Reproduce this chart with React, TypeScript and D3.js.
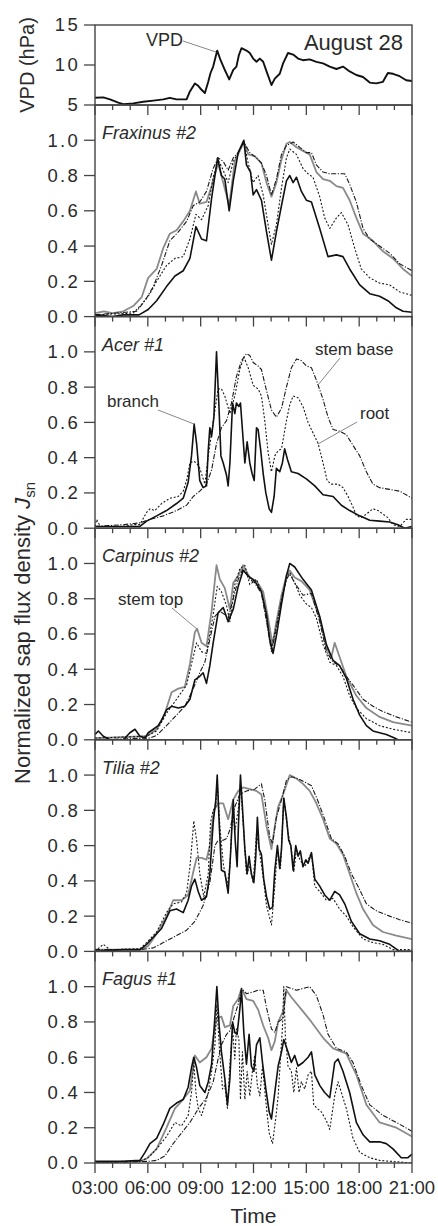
import React from 'react';
import * as d3 from 'd3';

type P = [number, number];

// ---------- axis / tick data ----------
const minorHours = d3.range(3, 22);
const majorHours = [3, 6, 9, 12, 15, 18, 21];
const timeLabels = ['03:00', '06:00', '09:00', '12:00', '15:00', '18:00', '21:00'];
const vpdTicks = [5, 10, 15];
const sapTicks = [0, 0.2, 0.4, 0.6, 0.8, 1.0];

// ---------- VPD (hPa) ----------
const vpd: P[] = [[3,5.9],[3.47,5.95],[3.85,5.7],[4.32,5.3],[4.61,5.1],[5.17,5.2],[5.74,5.4],[6.31,5.55],[6.88,5.7],[7.25,5.9],[7.63,5.7],[8.2,5.7],[8.39,6.7],[8.67,7.7],[8.86,7.4],[9.05,6.9],[9.24,6.5],[9.43,7.9],[9.56,9.0],[9.71,9.8],[9.94,11.8],[10.13,10.6],[10.37,9.4],[10.62,8.2],[10.85,9.4],[11.03,9.8],[11.17,11.25],[11.32,12.1],[11.6,11.8],[11.79,11.5],[11.98,10.8],[12.17,10.4],[12.36,10.8],[12.55,10.4],[12.74,9.2],[13.02,7.5],[13.21,8.3],[13.49,8.9],[13.68,10.2],[13.96,11.5],[14.25,11.3],[14.53,10.8],[14.81,10.6],[15.19,10.7],[15.57,10.4],[15.95,10.2],[16.33,9.8],[16.71,9.5],[17.08,9.8],[17.46,9.2],[17.84,8.75],[18.22,8.5],[18.6,7.8],[18.97,7.7],[19.35,7.9],[19.63,9.0],[19.92,8.9],[20.3,8.6],[20.67,8.1],[21,8.0]];

// ---------- Fraxinus #2 ----------
const fraxBranch: P[] = [[3,0.01],[4,0.0],[4.61,0.01],[5.5,0.01],[6.02,0.04],[6.5,0.09],[7.06,0.17],[7.54,0.23],[8.01,0.26],[8.39,0.33],[8.73,0.51],[9.05,0.44],[9.33,0.43],[9.62,0.67],[9.96,0.9],[10.18,0.8],[10.37,0.78],[10.62,0.6],[10.85,0.77],[11.13,0.93],[11.45,1.0],[11.6,0.86],[11.83,0.82],[11.98,0.69],[12.17,0.72],[12.45,0.66],[12.74,0.48],[13.02,0.32],[13.3,0.48],[13.59,0.63],[13.87,0.77],[14.06,0.8],[14.25,0.76],[14.44,0.79],[14.72,0.71],[15.0,0.66],[15.29,0.65],[15.76,0.5],[16.23,0.34],[16.71,0.35],[17.08,0.34],[17.46,0.27],[18.03,0.18],[18.6,0.13],[19.16,0.115],[19.63,0.09],[20.11,0.05],[20.49,0.03],[21,0.025]];
const fraxStemTop: P[] = [[3,0.02],[3.5,0.03],[4,0.02],[4.61,0.03],[5.17,0.06],[5.65,0.11],[6.02,0.22],[6.5,0.27],[6.88,0.39],[7.25,0.47],[7.63,0.49],[8.01,0.54],[8.39,0.6],[8.73,0.71],[8.95,0.64],[9.33,0.65],[9.62,0.74],[9.99,0.87],[10.28,0.76],[10.62,0.63],[10.94,0.88],[11.22,0.94],[11.45,0.99],[11.7,0.92],[12.07,0.91],[12.45,0.87],[12.74,0.76],[13.02,0.68],[13.3,0.76],[13.59,0.89],[13.87,0.98],[14.06,0.99],[14.44,0.96],[14.81,0.94],[15.19,0.92],[15.57,0.82],[15.95,0.78],[16.33,0.77],[16.71,0.74],[17.08,0.73],[17.46,0.66],[17.84,0.56],[18.22,0.47],[18.78,0.43],[19.35,0.37],[19.92,0.33],[20.49,0.27],[21,0.23]];
const fraxRoot: P[] = [[3,0.01],[5.17,0.02],[5.65,0.07],[6.12,0.13],[6.5,0.2],[7.06,0.29],[7.54,0.33],[8.01,0.34],[8.39,0.44],[8.73,0.58],[9.05,0.55],[9.43,0.63],[9.71,0.79],[9.99,0.89],[10.28,0.83],[10.56,0.76],[10.85,0.88],[11.13,0.93],[11.45,0.99],[11.7,0.87],[11.98,0.76],[12.26,0.8],[12.55,0.69],[12.83,0.52],[13.02,0.41],[13.3,0.52],[13.59,0.73],[13.87,0.9],[14.06,0.95],[14.44,0.92],[14.81,0.84],[15.1,0.81],[15.38,0.79],[15.76,0.68],[16.04,0.56],[16.33,0.5],[16.71,0.56],[16.99,0.59],[17.37,0.52],[17.74,0.39],[18.12,0.27],[18.6,0.22],[19.16,0.19],[19.73,0.18],[20.3,0.14],[21,0.12]];
const fraxStemBase: P[] = [[3,0.01],[5.36,0.03],[5.84,0.09],[6.31,0.17],[6.78,0.29],[7.25,0.43],[7.73,0.48],[8.2,0.54],[8.58,0.63],[8.95,0.65],[9.33,0.71],[9.71,0.84],[9.99,0.9],[10.28,0.88],[10.56,0.83],[10.85,0.9],[11.13,0.93],[11.45,0.99],[11.79,0.93],[12.17,0.9],[12.45,0.87],[12.74,0.8],[13.02,0.69],[13.3,0.78],[13.59,0.92],[13.87,0.97],[14.25,0.99],[14.63,0.96],[15.0,0.93],[15.29,0.93],[15.57,0.86],[15.95,0.82],[16.33,0.81],[16.71,0.81],[17.18,0.81],[17.46,0.75],[17.84,0.65],[18.22,0.5],[18.6,0.44],[19.16,0.4],[19.73,0.36],[20.3,0.3],[21,0.26]];

// ---------- Acer #1 ----------
const acerBranch: P[] = [[3,0.01],[4.61,0.01],[5.55,0.01],[5.93,0.04],[6.5,0.07],[7.06,0.1],[7.63,0.14],[8.01,0.17],[8.29,0.26],[8.48,0.41],[8.63,0.59],[8.77,0.48],[8.95,0.27],[9.14,0.23],[9.33,0.24],[9.43,0.44],[9.52,0.57],[9.62,0.52],[9.75,0.63],[9.9,1.0],[10.03,0.71],[10.15,0.41],[10.28,0.37],[10.47,0.3],[10.56,0.24],[10.66,0.37],[10.81,0.71],[10.94,0.65],[11.03,0.71],[11.17,0.69],[11.26,0.71],[11.37,0.56],[11.51,0.37],[11.64,0.49],[11.79,0.37],[11.92,0.31],[12.04,0.27],[12.17,0.57],[12.26,0.56],[12.4,0.45],[12.55,0.31],[12.7,0.2],[12.89,0.11],[13.02,0.09],[13.17,0.18],[13.3,0.34],[13.49,0.32],[13.64,0.37],[13.77,0.45],[13.93,0.39],[14.15,0.32],[14.53,0.31],[15.0,0.28],[15.48,0.24],[15.95,0.19],[16.52,0.18],[16.99,0.13],[17.46,0.1],[18.03,0.07],[18.6,0.045],[19.16,0.04],[19.73,0.035],[20.2,0.02],[20.58,0.0],[21,0.01]];
const acerRoot: P[] = [[3,0.01],[3.09,0.05],[3.3,0.01],[3.66,0.01],[4.61,0.01],[5.17,0.02],[5.55,0.02],[5.93,0.09],[6.12,0.11],[6.4,0.1],[6.78,0.14],[7.25,0.17],[7.73,0.18],[8.01,0.21],[8.2,0.27],[8.39,0.37],[8.58,0.38],[8.77,0.37],[8.95,0.34],[9.24,0.25],[9.43,0.41],[9.62,0.54],[9.81,0.67],[9.99,0.79],[10.18,0.79],[10.37,0.75],[10.66,0.65],[10.94,0.75],[11.22,0.9],[11.45,0.97],[11.7,0.91],[11.98,0.81],[12.26,0.79],[12.45,0.75],[12.64,0.61],[12.83,0.43],[13.02,0.32],[13.21,0.41],[13.4,0.44],[13.59,0.45],[13.87,0.61],[14.06,0.7],[14.25,0.75],[14.53,0.74],[14.81,0.69],[15.1,0.6],[15.38,0.54],[15.67,0.48],[15.95,0.37],[16.18,0.27],[16.42,0.25],[16.8,0.25],[17.08,0.23],[17.37,0.18],[17.65,0.12],[17.84,0.07],[18.12,0.06],[18.41,0.08],[18.78,0.11],[19.07,0.1],[19.35,0.08],[19.63,0.06],[19.92,0.02],[20.3,0.01],[20.67,0.05],[21,0.05]];
const acerStemBase: P[] = [[3,0.01],[4.61,0.02],[5.55,0.03],[6.12,0.05],[6.88,0.07],[7.63,0.1],[8.2,0.13],[8.58,0.18],[8.95,0.21],[9.33,0.25],[9.62,0.33],[9.9,0.48],[10.18,0.57],[10.47,0.61],[10.75,0.71],[11.03,0.86],[11.32,0.95],[11.6,0.99],[11.79,0.98],[11.98,0.94],[12.26,0.92],[12.45,0.9],[12.74,0.78],[13.02,0.67],[13.3,0.63],[13.59,0.68],[13.87,0.8],[14.15,0.91],[14.44,0.96],[14.72,0.95],[15.0,0.92],[15.29,0.91],[15.57,0.84],[15.95,0.73],[16.23,0.63],[16.52,0.56],[16.89,0.55],[17.27,0.53],[17.65,0.47],[18.03,0.41],[18.41,0.32],[18.78,0.25],[19.16,0.23],[19.73,0.22],[20.3,0.21],[21,0.17]];

// ---------- Carpinus #2 ----------
const carpBranch: P[] = [[3,0.03],[3.19,0.05],[3.47,0.02],[3.85,0.0],[4.61,0.0],[4.98,0.04],[5.27,0.06],[5.55,0.02],[5.84,0.01],[6.02,0.04],[6.31,0.06],[6.59,0.08],[6.78,0.11],[7.06,0.17],[7.35,0.19],[7.73,0.18],[8.1,0.19],[8.39,0.23],[8.67,0.34],[8.95,0.36],[9.14,0.38],[9.33,0.32],[9.52,0.42],[9.71,0.55],[9.99,0.72],[10.28,0.75],[10.56,0.67],[10.85,0.74],[11.13,0.87],[11.41,0.96],[11.7,0.93],[12.07,0.9],[12.45,0.84],[12.74,0.71],[12.92,0.57],[13.11,0.49],[13.3,0.59],[13.59,0.77],[13.87,0.93],[14.06,1.0],[14.34,0.98],[14.81,0.91],[15.29,0.85],[15.76,0.7],[16.14,0.54],[16.52,0.45],[16.89,0.42],[17.27,0.35],[17.65,0.23],[18.03,0.14],[18.41,0.08],[18.78,0.05],[19.16,0.04],[19.54,0.03],[20.01,0.01],[20.2,0.0]];
const carpStemTop: P[] = [[3,0.01],[5.93,0.02],[6.5,0.06],[6.97,0.15],[7.35,0.27],[7.73,0.29],[8.1,0.3],[8.39,0.43],[8.67,0.61],[8.8,0.63],[9.05,0.55],[9.33,0.53],[9.62,0.73],[9.9,0.99],[10.09,0.91],[10.37,0.86],[10.66,0.74],[10.85,0.89],[11.13,0.93],[11.41,0.99],[11.79,0.92],[12.17,0.9],[12.55,0.84],[12.83,0.69],[13.08,0.54],[13.3,0.67],[13.59,0.82],[13.87,0.93],[14.06,0.96],[14.34,0.92],[14.72,0.9],[15.19,0.85],[15.76,0.69],[16.14,0.52],[16.42,0.47],[16.61,0.55],[16.89,0.47],[17.27,0.36],[17.84,0.25],[18.41,0.18],[19.16,0.13],[19.92,0.1],[21,0.08]];
const carpRoot: P[] = [[3,0.01],[5.93,0.02],[6.5,0.05],[7.06,0.15],[7.63,0.23],[8.2,0.31],[8.48,0.43],[8.77,0.55],[9.05,0.5],[9.33,0.49],[9.71,0.71],[9.94,0.87],[10.18,0.84],[10.47,0.76],[10.66,0.67],[10.94,0.88],[11.22,0.97],[11.51,0.99],[11.79,0.88],[12.17,0.91],[12.45,0.84],[12.74,0.69],[13.02,0.52],[13.3,0.65],[13.59,0.79],[13.87,0.91],[14.06,0.95],[14.34,0.89],[14.63,0.82],[15.0,0.77],[15.29,0.75],[15.57,0.69],[15.95,0.54],[16.33,0.44],[16.71,0.42],[17.08,0.36],[17.46,0.25],[17.84,0.18],[18.41,0.12],[19.16,0.08],[19.92,0.06],[21,0.04]];
const carpStemBase: P[] = [[3,0.0],[6.12,0.01],[6.5,0.025],[7.06,0.08],[7.63,0.14],[8.1,0.19],[8.58,0.29],[8.95,0.38],[9.24,0.44],[9.52,0.57],[9.81,0.7],[10.09,0.73],[10.37,0.71],[10.56,0.69],[10.85,0.8],[11.13,0.91],[11.41,0.97],[11.79,0.91],[12.07,0.89],[12.45,0.83],[12.74,0.67],[13.02,0.5],[13.3,0.63],[13.59,0.8],[13.87,0.91],[14.06,0.94],[14.34,0.89],[14.81,0.82],[15.29,0.83],[15.76,0.67],[16.14,0.5],[16.52,0.44],[16.89,0.42],[17.27,0.36],[17.65,0.31],[18.22,0.23],[18.78,0.19],[19.35,0.16],[20.11,0.13],[21,0.1]];

// ---------- Tilia #2 ----------
const tiliaBranch: P[] = [[3,0.0],[4.61,0.01],[5.55,0.01],[5.93,0.04],[6.4,0.09],[6.78,0.13],[7.25,0.23],[7.63,0.24],[8.01,0.22],[8.29,0.29],[8.48,0.37],[8.67,0.41],[8.86,0.34],[9.05,0.29],[9.33,0.31],[9.52,0.44],[9.71,0.73],[9.86,0.86],[9.94,1.0],[10.05,0.73],[10.18,0.46],[10.37,0.45],[10.56,0.33],[10.69,0.54],[10.85,0.86],[10.96,0.63],[11.07,0.48],[11.15,0.73],[11.26,1.0],[11.37,0.82],[11.51,0.58],[11.64,0.44],[11.75,0.54],[11.88,0.44],[12.02,0.39],[12.13,0.54],[12.22,0.76],[12.32,0.58],[12.45,0.55],[12.58,0.41],[12.74,0.31],[12.92,0.24],[13.08,0.25],[13.21,0.46],[13.36,0.6],[13.49,0.47],[13.59,0.58],[13.72,0.87],[13.87,0.76],[14.0,0.63],[14.12,0.6],[14.25,0.46],[14.4,0.6],[14.53,0.54],[14.66,0.57],[14.81,0.48],[14.97,0.52],[15.1,0.5],[15.29,0.56],[15.48,0.41],[15.76,0.37],[16.04,0.32],[16.33,0.29],[16.61,0.34],[16.89,0.32],[17.18,0.27],[17.56,0.17],[18.03,0.1],[18.6,0.07],[19.16,0.06],[19.73,0.04],[20.3,0.0],[21,0.0]];
const tiliaRoot: P[] = [[3,0.0],[3.47,0.04],[3.85,0.01],[5.55,0.015],[5.93,0.05],[6.5,0.11],[7.06,0.22],[7.44,0.27],[7.91,0.28],[8.2,0.33],[8.39,0.48],[8.48,0.58],[8.61,0.74],[8.77,0.63],[8.95,0.44],[9.18,0.31],[9.43,0.44],[9.56,0.73],[9.71,0.8],[9.86,0.82],[9.94,0.97],[10.09,0.71],[10.28,0.5],[10.5,0.37],[10.66,0.48],[10.81,0.78],[10.96,0.69],[11.15,0.82],[11.26,0.95],[11.45,0.67],[11.6,0.44],[11.79,0.48],[11.98,0.39],[12.17,0.67],[12.32,0.58],[12.55,0.42],[12.74,0.26],[13.02,0.15],[13.21,0.37],[13.36,0.58],[13.53,0.47],[13.72,0.87],[13.96,0.67],[14.15,0.58],[14.29,0.45],[14.44,0.58],[14.63,0.52],[14.91,0.48],[15.29,0.56],[15.48,0.37],[15.76,0.34],[16.14,0.29],[16.52,0.3],[16.89,0.24],[17.27,0.2],[17.65,0.14],[18.22,0.07],[18.78,0.05],[19.35,0.04],[19.92,0.01],[21,0.01]];
const tiliaStemTop: P[] = [[3,0.01],[5.55,0.01],[6.02,0.03],[6.5,0.1],[7.06,0.2],[7.44,0.29],[7.91,0.29],[8.29,0.32],[8.58,0.45],[8.77,0.53],[9.05,0.53],[9.33,0.52],[9.52,0.6],[9.75,0.8],[9.99,0.84],[10.28,0.84],[10.56,0.75],[10.85,0.86],[11.13,0.91],[11.41,0.93],[11.79,0.92],[12.17,0.91],[12.45,0.89],[12.74,0.71],[13.02,0.58],[13.21,0.71],[13.4,0.82],[13.68,0.89],[14.06,1.0],[14.44,0.98],[14.81,0.95],[15.19,0.91],[15.57,0.84],[15.95,0.75],[16.33,0.64],[16.71,0.61],[17.08,0.55],[17.46,0.44],[17.84,0.33],[18.22,0.24],[18.78,0.15],[19.35,0.11],[20.11,0.09],[21,0.07]];
const tiliaStemBase: P[] = [[3,0.01],[5.55,0.01],[6.31,0.02],[6.88,0.05],[7.63,0.09],[8.2,0.12],[8.67,0.17],[9.14,0.26],[9.52,0.39],[9.81,0.6],[9.99,0.63],[10.28,0.63],[10.47,0.64],[10.66,0.69],[10.94,0.82],[11.22,0.89],[11.6,0.91],[12.07,0.92],[12.45,0.95],[12.64,0.86],[12.92,0.65],[13.08,0.61],[13.3,0.76],[13.59,0.86],[13.87,0.97],[14.15,0.99],[14.53,0.98],[14.91,0.96],[15.29,0.94],[15.67,0.85],[16.04,0.75],[16.42,0.64],[16.8,0.61],[17.18,0.54],[17.56,0.44],[17.93,0.37],[18.41,0.27],[18.97,0.23],[19.73,0.2],[20.3,0.18],[21,0.16]];

// ---------- Fagus #1 ----------
const fagusBranch: P[] = [[3,0.01],[4.61,0.01],[5.55,0.015],[5.84,0.06],[6.12,0.11],[6.5,0.14],[6.88,0.22],[7.25,0.31],[7.63,0.34],[8.01,0.36],[8.29,0.43],[8.48,0.54],[8.61,0.6],[8.77,0.54],[8.95,0.44],[9.24,0.4],[9.43,0.46],[9.62,0.56],[9.81,0.83],[9.92,1.0],[10.05,0.78],[10.18,0.63],[10.37,0.48],[10.52,0.33],[10.66,0.48],[10.81,0.8],[10.94,0.74],[11.07,0.73],[11.22,0.87],[11.32,0.98],[11.45,0.74],[11.6,0.56],[11.75,0.73],[11.88,0.55],[12.02,0.52],[12.17,0.67],[12.36,0.71],[12.51,0.57],[12.7,0.42],[12.89,0.29],[13.02,0.25],[13.21,0.4],[13.4,0.55],[13.59,0.63],[13.72,0.7],[13.96,0.63],[14.15,0.57],[14.34,0.61],[14.53,0.55],[14.81,0.57],[15.1,0.6],[15.29,0.63],[15.48,0.5],[15.76,0.44],[16.04,0.4],[16.33,0.37],[16.61,0.57],[16.8,0.59],[17.08,0.52],[17.46,0.4],[17.84,0.23],[18.22,0.16],[18.6,0.12],[19.16,0.12],[19.54,0.11],[19.92,0.08],[20.39,0.03],[20.77,0.03],[21,0.05]];
const fagusRoot: P[] = [[3,0.0],[4.61,0.01],[5.55,0.01],[6.02,0.03],[6.5,0.08],[7.06,0.15],[7.54,0.23],[7.91,0.21],[8.29,0.27],[8.48,0.4],[8.61,0.57],[8.73,0.4],[8.86,0.31],[9.05,0.27],[9.24,0.33],[9.43,0.4],[9.62,0.52],[9.81,0.67],[9.92,0.9],[10.05,0.67],[10.24,0.42],[10.37,0.44],[10.52,0.31],[10.66,0.56],[10.81,0.76],[10.94,0.59],[11.03,0.76],[11.17,0.7],[11.26,0.36],[11.37,0.63],[11.51,0.36],[11.64,0.52],[11.79,0.38],[11.94,0.52],[12.07,0.61],[12.22,0.44],[12.36,0.38],[12.51,0.55],[12.7,0.35],[12.89,0.17],[13.08,0.11],[13.26,0.25],[13.4,0.38],[13.53,0.59],[13.64,0.76],[13.72,1.0],[13.81,0.72],[13.96,0.55],[14.15,0.52],[14.29,0.4],[14.44,0.54],[14.59,0.4],[14.72,0.46],[14.91,0.42],[15.1,0.5],[15.29,0.52],[15.42,0.33],[15.61,0.31],[15.85,0.29],[16.14,0.24],[16.33,0.19],[16.61,0.38],[16.8,0.46],[16.99,0.4],[17.27,0.31],[17.65,0.14],[18.03,0.06],[18.6,0.03],[19.16,0.015],[19.73,0.01],[21,0.0]];
const fagusStemTop: P[] = [[3,0.0],[5.55,0.01],[5.93,0.025],[6.5,0.08],[7.06,0.2],[7.54,0.31],[7.91,0.35],[8.39,0.41],[8.67,0.61],[8.95,0.57],[9.33,0.6],[9.62,0.65],[9.9,0.82],[10.18,0.83],[10.37,0.77],[10.66,0.78],[10.85,0.89],[11.13,0.93],[11.32,0.99],[11.6,0.93],[11.98,0.92],[12.26,0.87],[12.55,0.78],[12.83,0.71],[13.02,0.64],[13.21,0.69],[13.4,0.8],[13.68,0.86],[13.87,0.98],[14.15,0.94],[14.81,0.86],[15.29,0.8],[15.95,0.71],[16.52,0.65],[17.27,0.62],[17.84,0.5],[18.41,0.33],[19.16,0.23],[20.11,0.2],[21,0.15]];
const fagusStemBase: P[] = [[3,0.0],[6.12,0.01],[6.5,0.015],[6.97,0.04],[7.44,0.11],[7.91,0.17],[8.39,0.23],[8.95,0.32],[9.33,0.37],[9.71,0.46],[9.99,0.59],[10.18,0.67],[10.47,0.73],[10.66,0.75],[10.85,0.81],[11.13,0.9],[11.32,0.99],[11.6,0.96],[11.98,0.97],[12.26,0.98],[12.55,0.98],[12.74,0.88],[13.02,0.76],[13.21,0.74],[13.4,0.8],[13.68,0.82],[13.87,1.0],[14.44,0.98],[15.19,1.0],[15.57,0.95],[15.95,0.84],[16.23,0.73],[16.71,0.65],[17.27,0.63],[17.65,0.57],[18.12,0.44],[18.6,0.33],[19.35,0.27],[20.11,0.23],[21,0.18]];

const panelTitles = ['Fraxinus #2', 'Acer #1', 'Carpinus #2', 'Tilia #2', 'Fagus #1'];
const panelSeries: { stemTop?: P[]; stemBase: P[]; root: P[]; branch: P[] }[] = [
  { stemTop: fraxStemTop, stemBase: fraxStemBase, root: fraxRoot, branch: fraxBranch },
  { stemBase: acerStemBase, root: acerRoot, branch: acerBranch },
  { stemTop: carpStemTop, stemBase: carpStemBase, root: carpRoot, branch: carpBranch },
  { stemTop: tiliaStemTop, stemBase: tiliaStemBase, root: tiliaRoot, branch: tiliaBranch },
  { stemTop: fagusStemTop, stemBase: fagusStemBase, root: fagusRoot, branch: fagusBranch },
];

const seriesStyle: Record<string, { stroke: string; width: number; dash?: string }> = {
  stemTop: { stroke: '#8a8a8a', width: 1.8 },
  stemBase: { stroke: '#1a1a1a', width: 1.1, dash: '5,1.6,1.2,1.6' },
  root: { stroke: '#1a1a1a', width: 1.1, dash: '2,1.8' },
  branch: { stroke: '#111', width: 1.6 },
};
const drawOrder = ['stemTop', 'stemBase', 'root', 'branch'];

const W = 438;
const H = 1226;
const L = 95;
const R = 412;
const VPD_TOP = 25;
const VPD_BOT = 105;
const PANEL_H = 211.6;
const FONT = '"Liberation Sans", Arial, Helvetica, sans-serif';
const AXIS = '#444';
const TXT = '#2a2a2a';

export default function App() {
  const x = d3.scaleLinear().domain([3, 21]).range([L, R]);
  const yV = d3.scaleLinear().domain([5, 15]).range([VPD_BOT, VPD_TOP]);

  const xTicks = (yBase: number, key: string) => (
    <g key={key}>
      {minorHours.map((h) => (
        <line key={h} x1={x(h)} x2={x(h)} y1={yBase} y2={yBase + (h % 3 === 0 ? 10 : 5)} stroke={AXIS} strokeWidth={1.3} />
      ))}
    </g>
  );

  const vpdLine = d3.line<P>().x((d) => x(d[0])).y((d) => yV(d[1]));

  const panels = panelSeries.map((s, i) => {
    const top = VPD_BOT + i * PANEL_H;
    const bot = top + PANEL_H;
    const y = d3.scaleLinear().domain([0, 1.2]).range([bot, top]);
    const line = d3.line<P>().x((d) => x(d[0])).y((d) => y(d[1]));
    return (
      <g key={i}>
        <clipPath id={`clip${i}`}>
          <rect x={L} y={top} width={R - L} height={PANEL_H} />
        </clipPath>
        <g clipPath={`url(#clip${i})`}>
          {drawOrder.map((k) => {
            const data = (s as any)[k] as P[] | undefined;
            if (!data) return null;
            const st = seriesStyle[k];
            return (
              <path key={k} d={line(data) || ''} fill="none" stroke={st.stroke} strokeWidth={st.width}
                strokeDasharray={st.dash} strokeLinejoin="round" />
            );
          })}
        </g>
        <rect x={L} y={top} width={R - L} height={PANEL_H} fill="none" stroke={AXIS} strokeWidth={1.4} />
        {sapTicks.map((t) => (
          <g key={t}>
            <line x1={L - 11} x2={L} y1={y(t)} y2={y(t)} stroke={AXIS} strokeWidth={1.3} />
            <text x={L - 15} y={y(t)} dy="0.35em" textAnchor="end" fontSize={18.5} letterSpacing={2.3} fill={TXT}>
              {d3.format('.1f')(t)}
            </text>
          </g>
        ))}
        {xTicks(bot, `xt${i}`)}
        <text x={L + 7} y={top + 34} fontSize={18} fontStyle="italic" fill={TXT}>{panelTitles[i]}</text>
      </g>
    );
  });

  const lastBot = VPD_BOT + 5 * PANEL_H;

  return (
    <svg width={W} height={H} style={{ position: 'absolute', left: 0, top: 0, background: '#fff' }} fontFamily={FONT}>
      <rect x={0} y={0} width={W} height={H} fill="#fff" />
      {/* VPD panel */}
      <path d={vpdLine(vpd) || ''} fill="none" stroke="#111" strokeWidth={1.9} strokeLinejoin="round" />
      <rect x={L} y={VPD_TOP} width={R - L} height={VPD_BOT - VPD_TOP} fill="none" stroke={AXIS} strokeWidth={1.4} />
      {vpdTicks.map((t) => (
        <g key={t}>
          <line x1={L - 11} x2={L} y1={yV(t)} y2={yV(t)} stroke={AXIS} strokeWidth={1.3} />
          <text x={L - 15} y={yV(t)} dy="0.35em" textAnchor="end" fontSize={18.5} letterSpacing={2.3} fill={TXT}>{t}</text>
        </g>
      ))}
      {xTicks(VPD_BOT, 'xtv')}
      <text x={403} y={50} textAnchor="end" fontSize={22} fill={TXT}>August 28</text>
      <text x={146} y={46} fontSize={18} fill={TXT}>VPD</text>
      <line x1={183} y1={41} x2={216} y2={52} stroke="#888" strokeWidth={1} />
      <text transform="translate(34,65) rotate(-90)" textAnchor="middle" fontSize={20} fill={TXT}>VPD (hPa)</text>

      {panels}

      {/* annotations */}
      <text x={315} y={355} fontSize={17} fill={TXT}>stem base</text>
      <line x1={340} y1={358} x2={318} y2={385} stroke="#888" strokeWidth={1} />
      <text x={107} y={407} fontSize={17} fill={TXT}>branch</text>
      <line x1={158} y1={410} x2={194} y2={424} stroke="#888" strokeWidth={1} />
      <text x={360} y={419} fontSize={17} fill={TXT}>root</text>
      <line x1={357} y1={422} x2={318} y2={444} stroke="#888" strokeWidth={1} />
      <text x={118} y={605} fontSize={17} fill={TXT}>stem top</text>
      <line x1={172} y1={608} x2={197} y2={629} stroke="#888" strokeWidth={1} />

      {/* x tick labels */}
      {majorHours.map((h, i) => (
        <text key={h} x={x(h)} y={lastBot + 31} textAnchor="middle" fontSize={18.5} fill={TXT}>{timeLabels[i]}</text>
      ))}
      <text x={(L + R) / 2} y={1223} textAnchor="middle" fontSize={21} fill={TXT}>Time</text>

      <text transform="translate(30,633) rotate(-90)" textAnchor="middle" fontSize={22} fill={TXT}>
        Normalized sap flux density <tspan fontStyle="italic">J</tspan>
        <tspan fontSize={15} dy={5}>sn</tspan>
      </text>
    </svg>
  );
}
